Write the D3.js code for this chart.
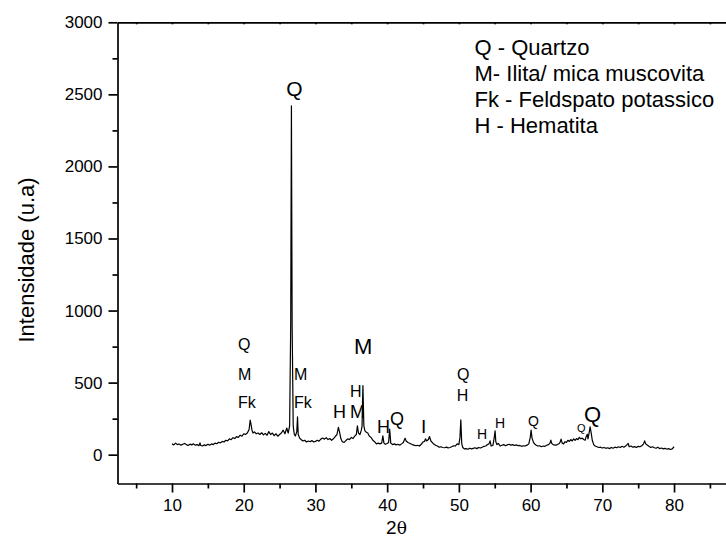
<!DOCTYPE html>
<html><head><meta charset="utf-8">
<script src="https://cdn.jsdelivr.net/npm/d3@7"></script>
<style>
body{margin:0;background:#fff;}
svg text{font-family:"Liberation Sans",Arial,sans-serif;fill:#000;}
</style></head>
<body><svg id="c" width="726" height="552"></svg>
<script>
const twoTheta = [10.0,10.25,10.5,10.75,11.0,11.25,11.5,11.75,12.0,12.25,12.5,12.75,13.0,13.25,13.5,13.75,13.9,14.0,14.25,14.5,14.75,15.0,15.25,15.5,15.75,16.0,16.25,16.5,16.75,17.0,17.25,17.5,17.75,18.0,18.25,18.5,18.75,19.0,19.25,19.5,19.75,20.0,20.25,20.5,20.75,20.9,21.0,21.15,21.3,21.5,21.75,22.0,22.25,22.5,22.75,23.0,23.25,23.5,23.75,24.0,24.25,24.5,24.75,25.0,25.25,25.5,25.75,26.0,26.2,26.4,26.55,26.65,26.75,26.9,27.05,27.2,27.4,27.5,27.6,27.8,28.0,28.25,28.5,28.75,29.0,29.25,29.5,29.75,30.0,30.25,30.5,30.75,31.0,31.25,31.5,31.75,32.0,32.25,32.5,32.75,33.0,33.2,33.35,33.55,33.75,34.0,34.25,34.5,34.75,35.0,35.25,35.5,35.7,35.85,36.0,36.2,36.4,36.5,36.62,36.75,36.9,37.1,37.3,37.5,37.75,38.0,38.25,38.5,38.75,39.0,39.25,39.4,39.55,39.75,40.0,40.2,40.35,40.5,40.75,41.0,41.25,41.5,41.75,42.0,42.25,42.5,42.65,42.9,43.2,43.5,43.75,44.0,44.25,44.5,44.75,45.0,45.2,45.35,45.5,45.75,45.9,46.1,46.4,46.75,47.0,47.25,47.5,47.75,48.0,48.25,48.5,48.75,49.0,49.25,49.5,49.75,50.0,50.15,50.27,50.4,50.55,50.75,51.0,51.25,51.5,51.75,52.0,52.25,52.5,52.75,53.0,53.25,53.5,53.75,54.0,54.2,54.35,54.5,54.75,54.9,55.05,55.15,55.3,55.5,55.75,56.0,56.25,56.5,56.75,57.0,57.25,57.5,57.75,58.0,58.25,58.5,58.75,59.0,59.25,59.5,59.75,59.95,60.07,60.2,60.4,60.6,60.8,61.0,61.25,61.5,61.75,62.0,62.25,62.5,62.7,62.82,62.95,63.2,63.5,63.75,64.0,64.1,64.25,64.4,64.6,64.8,65.0,65.2,65.4,65.6,65.8,66.0,66.2,66.4,66.6,66.8,67.0,67.2,67.4,67.6,67.75,67.9,68.0,68.15,68.3,68.45,68.6,68.8,69.0,69.25,69.5,69.75,70.0,70.25,70.5,70.75,71.0,71.25,71.5,71.75,72.0,72.25,72.5,72.75,73.0,73.25,73.45,73.6,73.75,74.0,74.25,74.5,74.75,75.0,75.25,75.5,75.75,75.9,76.05,76.3,76.5,76.75,77.0,77.25,77.5,77.75,78.0,78.25,78.5,78.75,79.0,79.25,79.5,79.75,80.0];
const intensity = [75,68,80,70,74,66,72,78,70,64,73,68,75,66,70,62,82,64,60,68,63,72,66,75,70,80,76,86,82,92,88,100,96,110,104,118,112,125,120,135,128,145,140,150,175,240,215,170,150,158,145,150,140,152,138,148,135,160,140,150,132,145,128,140,150,170,145,185,150,200,900,2420,900,200,140,130,160,262,140,115,105,95,100,88,95,90,98,88,92,100,94,108,115,108,118,105,112,100,110,125,140,190,160,110,90,85,98,110,105,120,112,130,140,200,150,140,170,200,480,200,165,155,150,130,120,100,90,75,80,75,82,130,80,72,78,85,177,80,70,75,68,72,66,75,85,114,95,85,78,70,66,62,65,60,72,88,92,110,95,105,126,95,78,65,60,52,55,50,48,52,47,50,55,62,60,75,70,120,242,75,50,40,42,38,45,40,44,48,42,50,46,52,58,60,70,75,96,60,65,110,165,90,70,78,60,65,70,62,68,72,66,70,64,68,62,64,58,62,60,66,75,120,170,115,85,72,65,60,62,55,60,58,65,70,80,101,78,68,66,70,78,85,108,80,75,90,85,100,92,105,95,110,100,112,104,120,110,115,105,100,125,142,110,150,193,150,100,70,60,55,50,52,46,50,44,48,42,50,45,52,48,55,50,58,52,60,70,78,55,60,52,56,50,58,55,62,75,96,75,65,58,50,55,48,45,52,42,46,40,44,38,42,36,40,55];

const xTicks = [10,20,30,40,50,60,70,80];
const xMinor = [5,15,25,35,45,55,65,75,85];
const yTicks = [0,500,1000,1500,2000,2500,3000];
const yMinor = [250,750,1250,1750,2250,2750];

const legendLines = ["Q - Quartzo","M- Ilita/ mica muscovita","Fk - Feldspato potassico","H - Hematita"];

// peak labels: text, 2θ, intensity anchor, font size
const peakText  = ["Q","Q","M","Fk","M","Fk","H","M","H","M","H","Q","I","Q","H","H","H","Q","Q","Q"];
const peakAngle = [27.08,19.2,19.2,19.2,27.01,27.01,32.45,34.82,34.82,35.38,38.59,40.4,44.72,49.74,49.7,52.53,55.04,59.64,66.47,67.45];
const peakInt   = [2489,723,518,327,518,324,255,255,400,699,150,206,150,515,373,109,185,199,158,227];
const peakSize  = [21,16,16,16,16,16,18,18,16,22,18,18,19,16,16,14,14,14,11,22];

const svg = d3.select("#c");
const x = d3.scaleLinear().domain([2.4, 88.5]).range([117.5, 735.0]);
const y = d3.scaleLinear().domain([-200, 3000]).range([483.5, 22.3]);

const axStyle = g => { g.selectAll("path,line").attr("stroke","#000").attr("stroke-width",1.7);
  g.selectAll("text").attr("font-family","Liberation Sans, Arial, sans-serif").attr("font-size",17).attr("fill","#000"); };

// bottom axis
svg.append("g").attr("transform",`translate(0,${y(-200)})`)
  .call(d3.axisBottom(x).tickValues(xTicks).tickSize(9).tickSizeOuter(0).tickPadding(6).tickFormat(d3.format("d")))
  .call(axStyle);
svg.append("g").attr("transform",`translate(0,${y(-200)})`)
  .call(d3.axisBottom(x).tickValues(xMinor).tickSize(5).tickFormat(""))
  .call(g=>g.select(".domain").remove()).call(axStyle);
// top axis (tiny inward ticks)
svg.append("g").attr("transform",`translate(0,${y(3000)})`)
  .call(d3.axisTop(x).tickValues(xTicks.concat(xMinor)).tickSize(-2).tickSizeOuter(0).tickFormat(""))
  .call(axStyle);
// left axis
svg.append("g").attr("transform",`translate(${x(2.4)},0)`)
  .call(d3.axisLeft(y).tickValues(yTicks).tickSize(9).tickSizeOuter(0).tickPadding(6).tickFormat(d3.format("d")))
  .call(axStyle);
svg.append("g").attr("transform",`translate(${x(2.4)},0)`)
  .call(d3.axisLeft(y).tickValues(yMinor).tickSize(5).tickFormat(""))
  .call(g=>g.select(".domain").remove()).call(axStyle);

// pattern
const data = twoTheta.map((t,i)=>[t,intensity[i]]);
svg.append("path").datum(data)
  .attr("fill","none").attr("stroke","#000").attr("stroke-width",1.2).attr("stroke-linejoin","round")
  .attr("d", d3.line().x(d=>x(d[0])).y(d=>y(d[1])));

// peak labels
svg.append("g").selectAll("text").data(peakText).join("text")
  .attr("x",(d,i)=>x(peakAngle[i])).attr("y",(d,i)=>y(peakInt[i]))
  .attr("text-anchor",(d,i)=> i===0 ? "middle" : "start")
  .attr("font-size",(d,i)=>peakSize[i]).text(d=>d);

// legend
svg.append("g").selectAll("text").data(legendLines).join("text")
  .attr("x",474.5).attr("y",(d,i)=>55+i*26).attr("font-size",22).text(d=>d);

// axis titles
svg.append("text").attr("transform","translate(34,260) rotate(-90)").attr("text-anchor","middle")
  .attr("font-size",22).text("Intensidade (u.a)");
const xt = svg.append("text").attr("x",x(41.3)).attr("y",534).attr("text-anchor","middle").attr("font-size",19);
xt.append("tspan").text("2");
xt.append("tspan").attr("font-family","DejaVu Serif, serif").attr("font-size",17).text("θ");
</script></body></html>
